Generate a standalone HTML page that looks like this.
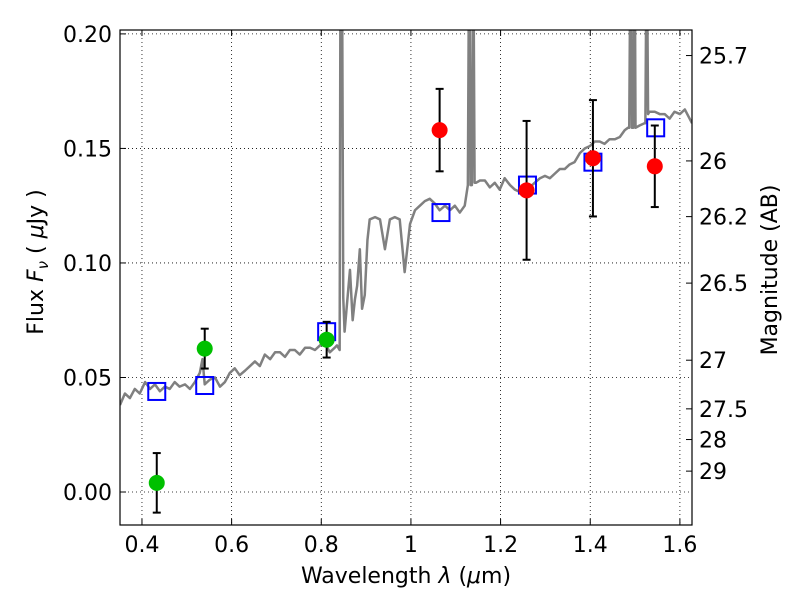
<!DOCTYPE html>
<html><head><meta charset="utf-8"><style>
body{margin:0;background:#fff}
svg text{font-family:"DejaVu Sans","Liberation Sans",sans-serif;fill:#000}
</style></head><body>
<svg id="c" width="800" height="600"></svg>
<script>
const xTicks=[0.4,0.6,0.8,1.0,1.2,1.4,1.6];
const xTickLabels=["0.4","0.6","0.8","1","1.2","1.4","1.6"];
const yTicks=[0,0.05,0.1,0.15,0.2];
const yTickLabels=["0.00","0.05","0.10","0.15","0.20"];
const magTicks=[25.7,26,26.2,26.5,27,27.5,28,29];
const magLabels=["25.7","26","26.2","26.5","27","27.5","28","29"];
const specWave=[0.351,0.362,0.373,0.384,0.395,0.407,0.418,0.429,0.440,0.451,0.462,0.473,0.484,0.496,0.507,0.518,0.529,0.535,0.540,0.551,0.563,0.574,0.585,0.596,0.607,0.618,0.630,0.641,0.652,0.663,0.674,0.686,0.697,0.708,0.719,0.730,0.741,0.752,0.764,0.775,0.786,0.797,0.808,0.819,0.830,0.835,0.841,0.843,0.846,0.849,0.852,0.864,0.870,0.875,0.880,0.886,0.891,0.897,0.903,0.908,0.920,0.931,0.942,0.953,0.964,0.975,0.986,0.998,1.009,1.020,1.031,1.042,1.053,1.064,1.076,1.087,1.098,1.109,1.120,1.127,1.130,1.133,1.136,1.139,1.142,1.145,1.154,1.165,1.176,1.187,1.198,1.209,1.221,1.232,1.243,1.254,1.265,1.276,1.288,1.299,1.310,1.321,1.332,1.343,1.354,1.365,1.377,1.388,1.399,1.410,1.421,1.432,1.443,1.455,1.466,1.477,1.484,1.487,1.490,1.493,1.496,1.499,1.501,1.510,1.521,1.523,1.526,1.529,1.532,1.544,1.555,1.566,1.577,1.588,1.600,1.611,1.627];
const specFlux=[0.038,0.043,0.041,0.045,0.043,0.048,0.045,0.047,0.044,0.046,0.045,0.048,0.046,0.047,0.045,0.048,0.052,0.058,0.047,0.049,0.050,0.046,0.048,0.052,0.054,0.051,0.053,0.055,0.057,0.055,0.060,0.058,0.061,0.061,0.059,0.062,0.062,0.060,0.063,0.063,0.062,0.064,0.065,0.061,0.063,0.064,0.062,0.25,0.25,0.085,0.070,0.097,0.075,0.084,0.090,0.106,0.080,0.086,0.110,0.119,0.120,0.119,0.106,0.119,0.120,0.119,0.096,0.117,0.123,0.125,0.127,0.128,0.126,0.123,0.125,0.123,0.125,0.122,0.125,0.134,0.25,0.134,0.134,0.25,0.135,0.135,0.136,0.136,0.133,0.135,0.132,0.137,0.134,0.132,0.131,0.134,0.133,0.135,0.137,0.138,0.137,0.139,0.141,0.141,0.143,0.144,0.148,0.150,0.151,0.153,0.153,0.152,0.154,0.154,0.155,0.158,0.159,0.159,0.25,0.159,0.159,0.25,0.159,0.160,0.161,0.161,0.25,0.165,0.166,0.166,0.165,0.165,0.163,0.166,0.165,0.167,0.161];
const greenWave=[0.433,0.540,0.812];
const greenFlux=[0.004,0.0626,0.0665];
const greenErr=[0.013,0.0087,0.0078];
const redWave=[1.064,1.258,1.406,1.544];
const redFlux=[0.158,0.1317,0.1457,0.1422];
const redErr=[0.018,0.0303,0.0254,0.0178];
const modelWave=[0.433,0.540,0.812,1.067,1.260,1.406,1.546];
const modelFlux=[0.0439,0.0465,0.070,0.122,0.134,0.144,0.159];

const L=120,R=692,T=30,B=525,xmin=0.351,xmax=1.627,ymin=-0.0144,ymax=0.2017;
const X=v=>L+(v-xmin)/(xmax-xmin)*(R-L);
const Y=v=>B-(v-ymin)/(ymax-ymin)*(B-T);
const svg=document.getElementById('c');const NS='http://www.w3.org/2000/svg';
function mk(tag,a,p){const e=document.createElementNS(NS,tag);for(const k in a)e.setAttribute(k,a[k]);(p||svg).appendChild(e);return e;}
mk('defs',{}).innerHTML='<clipPath id="cp"><rect x="120" y="30" width="572" height="495"/></clipPath>';
xTicks.forEach((t,i)=>{const x=X(t);
 const g=mk('line',{x1:x,x2:x,y1:T,y2:B,stroke:'#000','stroke-width':0.8,'stroke-dasharray':'1,3'});
 
 mk('line',{x1:x,x2:x,y1:B,y2:B-6,stroke:'#000'});mk('line',{x1:x,x2:x,y1:T,y2:T+6,stroke:'#000'});
 const tx=mk('text',{x:x,y:B+27,'text-anchor':'middle','font-size':22});tx.textContent=xTickLabels[i];
 });
yTicks.forEach((t,i)=>{const y=Y(t);
 const g=mk('line',{x1:L,x2:R,y1:y,y2:y,stroke:'#000','stroke-width':0.8,'stroke-dasharray':'1,3'});
 
 mk('line',{x1:L,x2:L+6,y1:y,y2:y,stroke:'#000'});
 const tx=mk('text',{x:L-8,y:y+8,'text-anchor':'end','font-size':22});tx.textContent=yTickLabels[i];
 });
magTicks.forEach((m,i)=>{const y=Y(Math.pow(10,(23.9-m)/2.5));
 mk('line',{x1:R,x2:R-6,y1:y,y2:y,stroke:'#000'});
 const tx=mk('text',{x:R+7,y:y+8,'font-size':22});tx.textContent=magLabels[i];
 });
const cg=mk('g',{'clip-path':'url(#cp)'});
const sp=mk('polyline',{points:specWave.map((w,i)=>X(w)+','+Y(specFlux[i])).join(' '),fill:'none',stroke:'#808080','stroke-width':2.5,'stroke-linejoin':'round'},cg);

modelWave.forEach((w,i)=>{const r=mk('rect',{x:X(w)-8.5,y:Y(modelFlux[i])-8.5,width:17,height:17,fill:'none',stroke:'#0000ff','stroke-width':2},cg);
 });
function pts(ws,fs,es,col,name){ws.forEach((w,i)=>{const x=X(w),y1=Y(fs[i]-es[i]),y2=Y(fs[i]+es[i]);
 mk('line',{x1:x,x2:x,y1:y1,y2:y2,stroke:'#000','stroke-width':2},cg);
 mk('line',{x1:x-4,x2:x+4,y1:y1,y2:y1,stroke:'#000','stroke-width':2},cg);
 mk('line',{x1:x-4,x2:x+4,y1:y2,y2:y2,stroke:'#000','stroke-width':2},cg);
 const c=mk('circle',{cx:x,cy:Y(fs[i]),r:8,fill:col},cg);
 });}
pts(greenWave,greenFlux,greenErr,'#00c000','green-data-point');
pts(redWave,redFlux,redErr,'#ff0000','red-data-point');
const fr=mk('rect',{x:L,y:T,width:R-L,height:B-T,fill:'none',stroke:'#000','stroke-width':1.2});

const xl=mk('text',{x:406,y:583,'text-anchor':'middle','font-size':22});
xl.innerHTML='Wavelength  <tspan font-style="italic">λ</tspan> (<tspan font-style="italic">μ</tspan>m)';

const yl=mk('text',{x:0,y:0,'text-anchor':'middle','font-size':22,transform:'translate(43,262) rotate(-90)'});
yl.innerHTML='Flux  <tspan font-style="italic">F</tspan><tspan font-style="italic" font-size="15" dy="5">ν</tspan><tspan dy="-5">  (  </tspan><tspan font-style="italic">μ</tspan>Jy )';

const ml=mk('text',{x:0,y:0,'text-anchor':'middle','font-size':22,transform:'translate(777,270) rotate(-90)'});
ml.textContent='Magnitude (AB)';

</script></body></html>
